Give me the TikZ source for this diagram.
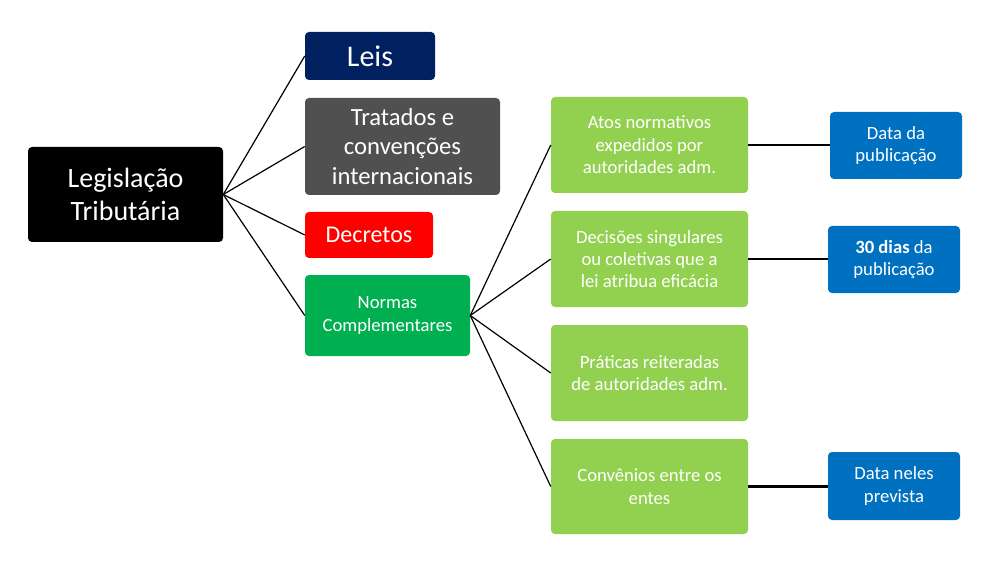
\documentclass[tikz,border=0pt]{standalone}
\usepackage{fontspec}
\setmainfont{Carlito}
\definecolor{navy}{RGB}{0,32,96}
\definecolor{dgray}{RGB}{80,80,80}
\definecolor{nred}{RGB}{255,0,0}
\definecolor{ngreen}{RGB}{0,176,80}
\definecolor{lgreen}{RGB}{146,208,80}
\definecolor{nblue}{RGB}{0,112,192}
\begin{document}
\begin{tikzpicture}[x=0.75pt,y=-0.75pt,
  box/.style={rounded corners=3pt,text=white,align=center,inner sep=0pt},
  conn/.style={draw=black,line width=0.9pt},
  thick conn/.style={draw=black,line width=2pt}]
\useasboundingbox (0,0) rectangle (1000,581);
\def\bx#1#2#3#4#5#6#7#8{% name, x1,y1,x2,y2, color, size, text
  \node[box,fill=#6,minimum width={(#4-#2)*0.75pt},minimum height={(#5-#3)*0.75pt},font=\fontsize{#7pt}{\dimexpr #7pt*12/10\relax}\selectfont] (#1) at ({(#2+#4)/2},{(#3+#5)/2}) {#8};}
\bx{leg}{28}{147}{223}{242}{black}{21}{Legislação\\Tributária}
\bx{leis}{305}{32}{435}{80}{navy}{22.5}{Leis}
\bx{trat}{305}{98}{500}{195}{dgray}{18.5}{Tratados e\\convenções\\internacionais}
\bx{dec}{305}{212}{433}{258}{nred}{18}{Decretos}
\bx{norm}{305}{275}{470}{356}{ngreen}{14}{Normas\\Complementares}
\bx{atos}{551}{97}{748}{193}{lgreen}{14}{Atos normativos\\expedidos por\\autoridades adm.}
\bx{decis}{551}{211}{748}{307}{lgreen}{14}{Decisões singulares\\ou coletivas que a\\lei atribua eficácia}
\bx{prat}{551}{325}{748}{421}{lgreen}{14}{Práticas reiteradas\\de autoridades adm.}
\bx{conv}{551}{439}{748}{534}{lgreen}{14}{Convênios entre os\\entes}
\bx{d1}{830}{112}{962}{179}{nblue}{14}{Data da\\publicação}
\bx{d2}{828}{226}{960}{293}{nblue}{14}{\textbf{30 dias} da\\publicação}
\bx{d3}{828}{452}{960}{520}{nblue}{14}{Data neles\\prevista}
\foreach \t in {leis,trat,dec,norm} \draw[conn] (leg.east) -- (\t.west);
\foreach \t in {atos,decis,prat,conv} \draw[conn] (norm.east) -- (\t.west);
\draw[thick conn] (atos.east) -- (d1.west|-atos.east);
\draw[thick conn] (decis.east) -- (d2.west|-decis.east);
\draw[thick conn] (conv.east) -- (d3.west|-conv.east);
\end{tikzpicture}
\end{document}
